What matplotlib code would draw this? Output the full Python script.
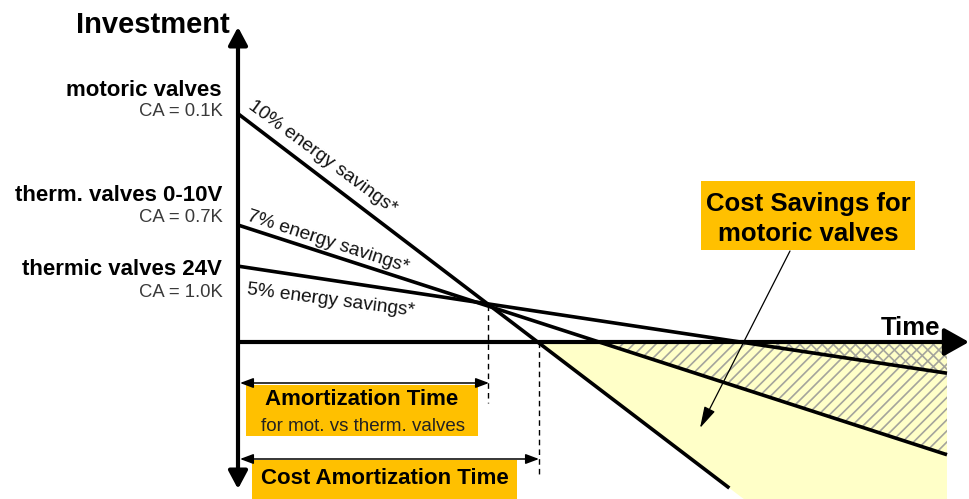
import numpy as np
import matplotlib
matplotlib.use("Agg")
import matplotlib.pyplot as plt
from matplotlib.patches import Rectangle

plt.rcParams['font.family'] = ['Liberation Sans', 'DejaVu Sans']
plt.rcParams['hatch.linewidth'] = 1.2

# ---- data (conceptual units: time, investment) ----
series_names = ["motoric valves", "therm. valves 0-10V", "thermic valves 24V"]
ca_labels = ["CA = 0.1K", "CA = 0.7K", "CA = 1.0K"]
savings_labels = ["10% energy savings*", "7% energy savings*", "5% energy savings*"]
invest_start = [3.22, 1.65, 1.07]
end_time = [6.93, 10.0, 10.0]
invest_end = [-2.06, -1.59, -0.44]

# ---- layout helpers (pixel -> data) ----
U = 70.9
def X(px):
    return (px - 238) / U
def Y(py):
    return (342 - py) / U

fig = plt.figure(figsize=(9.69, 4.99), dpi=100)
ax = fig.add_axes([0, 0, 1, 1])
ax.set_xlim(X(0), X(969))
ax.set_ylim(Y(499), Y(0))
ax.axis('off')

slopes = [(e - s) / t for s, e, t in zip(invest_start, invest_end, end_time)]
cross = [-s / m for s, m in zip(invest_start, slopes)]
t_end = max(end_time)

# ---- shaded areas ----
light = '#FFFFC8'
hatch_col = '#A4A49C'
tt = np.linspace(cross[0], t_end, 400)
ybot = Y(499)
ax.fill_between(tt, 0, np.maximum(invest_start[0] + slopes[0] * tt, ybot),
                facecolor=light, edgecolor='none', lw=0, zorder=1)
tt1 = np.linspace(cross[1], t_end, 200)
ax.fill_between(tt1, 0, invest_start[1] + slopes[1] * tt1,
                facecolor='none', edgecolor=hatch_col, hatch='///', lw=0, zorder=2)
tt2 = np.linspace(cross[2], t_end, 200)
ax.fill_between(tt2, 0, invest_start[2] + slopes[2] * tt2,
                facecolor='none', edgecolor=hatch_col, hatch='\\\\\\', lw=0, zorder=2)

# ---- investment lines ----
for s, e, t in zip(invest_start, invest_end, end_time):
    ax.plot([0, t], [s, e], color='black', lw=2.6, solid_capstyle='butt', zorder=4)

# ---- axes arrows ----
ax.annotate('', xy=(X(969), 0), xytext=(0, 0),
            arrowprops=dict(arrowstyle='-|>,head_length=0.75,head_width=0.42',
                            lw=3, color='black', mutation_scale=20,
                            shrinkA=0, shrinkB=0), zorder=5)
ax.annotate('', xy=(0, Y(27)), xytext=(0, Y(489)),
            arrowprops=dict(arrowstyle='<|-|>,head_length=0.6,head_width=0.32',
                            lw=3, color='black', mutation_scale=18,
                            shrinkA=0, shrinkB=0), zorder=5)

ax.text(X(230), Y(33), "Investment", ha='right', va='baseline',
        fontsize=21, fontweight='bold')
ax.text(X(940), Y(335), "Time", ha='right', va='baseline',
        fontsize=18.5, fontweight='bold')

# ---- left labels ----
name_base = [96, 201, 275]
ca_base = [116, 222, 297]
for nm, ca, nb, cb in zip(series_names, ca_labels, name_base, ca_base):
    ax.text(X(222), Y(nb), nm, ha='right', va='baseline', fontsize=16, fontweight='bold')
    ax.text(X(223), Y(cb), ca, ha='right', va='baseline', fontsize=13.3, color='#3a3a3a')

# ---- energy savings labels along lines ----
lab_pos = [(247, 108), (246, 220), (247, 294)]
lab_rot = [np.degrees(np.arctan(slopes[0])) + 1.0,
           np.degrees(np.arctan(slopes[1])),
           np.degrees(np.arctan(slopes[2])) + 1.2]
for lab, (px, py), rot in zip(savings_labels, lab_pos, lab_rot):
    ax.text(X(px), Y(py), lab, ha='left', va='baseline', rotation=rot,
            rotation_mode='anchor', fontsize=13.8, color='#111111')

# ---- dashed verticals ----
ax.plot([X(488), X(488)], [Y(305), Y(403)], color='black', lw=1, ls=(0, (4, 3)), zorder=3)
ax.plot([X(539), X(539)], [Y(342), Y(476)], color='black', lw=1, ls=(0, (4, 3)), zorder=3)

# ---- boxes ----
gold = '#FFC000'
def box(x0, y0, x1, y1):
    ax.add_patch(Rectangle((X(x0), Y(y1)), X(x1) - X(x0), Y(y0) - Y(y1),
                           facecolor=gold, edgecolor='none', zorder=3))

box(701, 181, 915, 250)
ax.text(X(808), Y(211), "Cost Savings for", ha='center', va='baseline',
        fontsize=18.5, fontweight='bold', zorder=6)
ax.text(X(808), Y(241), "motoric valves", ha='center', va='baseline',
        fontsize=18.5, fontweight='bold', zorder=6)

box(246, 385, 478, 436)
ax.text(X(362), Y(405), "Amortization Time", ha='center', va='baseline',
        fontsize=16, fontweight='bold', zorder=6)
ax.text(X(363), Y(431), "for mot. vs therm. valves", ha='center', va='baseline',
        fontsize=13.5, color='#222222', zorder=6)

box(252, 460, 517, 505)
ax.text(X(385), Y(484), "Cost Amortization Time", ha='center', va='baseline',
        fontsize=16, fontweight='bold', zorder=6)

# ---- double arrows ----
for yy, xe in [(383, 489), (459, 539)]:
    ax.annotate('', xy=(X(xe), Y(yy)), xytext=(X(240), Y(yy)),
                arrowprops=dict(arrowstyle='<|-|>,head_length=0.8,head_width=0.3',
                                lw=1.1, color='black', mutation_scale=10,
                                shrinkA=0, shrinkB=0), zorder=6)

# ---- pointer arrow ----
ax.annotate('', xy=(X(700), Y(428)), xytext=(X(790), Y(251)),
            arrowprops=dict(arrowstyle='-|>,head_length=1.1,head_width=0.3',
                            lw=0.9, color='black', mutation_scale=12,
                            shrinkA=0, shrinkB=0), zorder=6)

fig.savefig('out.png', dpi=100)
